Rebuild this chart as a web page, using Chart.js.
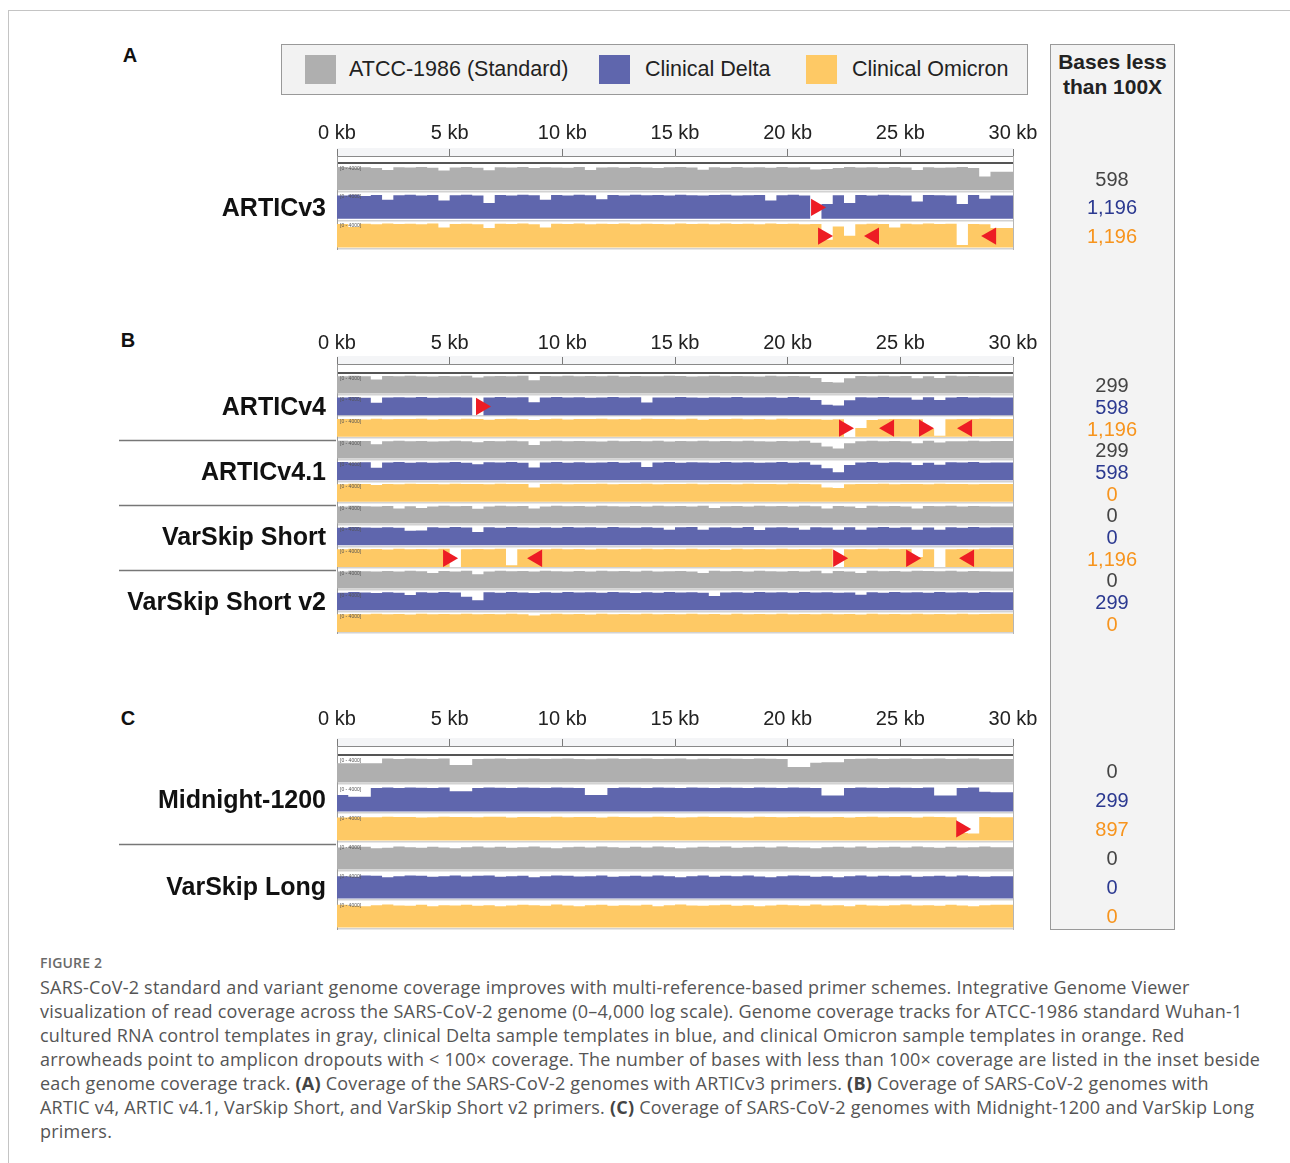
<!DOCTYPE html>
<html>
<head>
<meta charset="utf-8">
<script src="https://cdn.jsdelivr.net/npm/chart.js@4.4.0/dist/chart.umd.min.js"></script>
<style>
  body { margin: 0; background: #fff; width: 1290px; height: 1163px; position: relative; overflow: hidden;
         font-family: Arial, "Liberation Sans", sans-serif; color: #222; }
  .frame { position: absolute; left: 8px; top: 10px; width: 1300px; height: 1200px;
           border-left: 1px solid #c4c4c4; border-top: 1px solid #c4c4c4; }
  .abs { position: absolute; white-space: nowrap; }
  .letter { font-weight: bold; font-size: 20px; color: #111; transform: translate(-50%, -50%); }
  .legend { left: 281px; top: 44px; width: 745px; height: 49px; background: #f2f2f2; border: 1px solid #999; }
  .swatch { position: absolute; top: 10px; width: 31px; height: 29px; }
  .legtext { position: absolute; top: 11px; font-size: 21.5px; line-height: 26px; color: #222; }
  .side { left: 1050px; top: 44px; width: 123px; height: 884px; background: #f3f3f3; border: 1px solid #999; }
  .side-head { position: absolute; left: 0; width: 123px; top: 4px; text-align: center; font-weight: bold;
               font-size: 21px; line-height: 25px; color: #222; }
  canvas { position: absolute; z-index: 1; }
  .caption { left: 40px; top: 951px; font-family: "Open Sans", sans-serif; color: #555; }
  .caption .fig { font-size: 14px; font-weight: 600; color: #6a6a6a; line-height: 24px; letter-spacing: 0.2px; }
  .caption .body { font-size: 18px; line-height: 24px; letter-spacing: 0.22px; }
  .caption b { font-weight: 700; color: #444; }
</style>
</head>
<body>
<div class="frame"></div>

<div class="abs letter" style="left:130px;top:55px">A</div>
<div class="abs letter" style="left:128px;top:340px">B</div>
<div class="abs letter" style="left:128px;top:718px">C</div>

<div class="abs legend">
  <div class="swatch" style="left:23px;background:#afafaf"></div>
  <div class="legtext" style="left:67px">ATCC-1986 (Standard)</div>
  <div class="swatch" style="left:317px;background:#5f66ad"></div>
  <div class="legtext" style="left:363px">Clinical Delta</div>
  <div class="swatch" style="left:524px;background:#fec965"></div>
  <div class="legtext" style="left:570px">Clinical Omicron</div>
</div>

<div class="abs side"><div class="side-head">Bases less<br>than 100X</div></div>

<canvas id="chartA" width="1080" height="149" style="left:100px;top:110px"></canvas>
<canvas id="chartB" width="1080" height="325" style="left:100px;top:318px"></canvas>
<canvas id="chartC" width="1080" height="239" style="left:100px;top:700px"></canvas>

<div class="abs caption">
  <div class="fig">FIGURE 2</div>
  <div class="body">
    SARS-CoV-2 standard and variant genome coverage improves with multi-reference-based primer schemes. Integrative Genome Viewer<br>
    visualization of read coverage across the SARS-CoV-2 genome (0–4,000 log scale). Genome coverage tracks for ATCC-1986 standard Wuhan-1<br>
    cultured RNA control templates in gray, clinical Delta sample templates in blue, and clinical Omicron sample templates in orange. Red<br>
    arrowheads point to amplicon dropouts with &lt; 100× coverage. The number of bases with less than 100× coverage are listed in the inset beside<br>
    each genome coverage track. <b>(A)</b> Coverage of the SARS-CoV-2 genomes with ARTICv3 primers. <b>(B)</b> Coverage of SARS-CoV-2 genomes with<br>
    ARTIC v4, ARTIC v4.1, VarSkip Short, and VarSkip Short v2 primers. <b>(C)</b> Coverage of SARS-CoV-2 genomes with Midnight-1200 and VarSkip Long<br>
    primers.
  </div>
</div>

<script>
// genome bins, 500 bp each (start position in kb)
const binKb = [0,0.5,1,1.5,2,2.5,3,3.5,4,4.5,5,5.5,6,6.5,7,7.5,8,8.5,9,9.5,10,10.5,11,11.5,12,12.5,13,13.5,14,14.5,
  15,15.5,16,16.5,17,17.5,18,18.5,19,19.5,20,20.5,21,21.5,22,22.5,23,23.5,24,24.5,25,25.5,26,26.5,27,27.5,28,28.5,29,29.5];
const genomeEndKb = 30;
const xTicksKb = [0, 5, 10, 15, 20, 25, 30];

// coverage read off the IGV tracks, % of track height (log scale 0-4000)
// panel A
const articV3Std = [86,88,85,87,84,76,87,86,88,85, 74,86,88,85,75,87,86,88,84,87, 86,85,88,76,86,87,85,88,86,84,
  87,88,86,77,87,85,88,86,87,85, 88,86,87,78,80,84,88,86,87,85, 88,86,76,87,85,86,88,84,52,70];
const articV3Delta = [90,88,91,87,90,72,89,91,88,90, 70,89,91,88,60,90,88,91,89,72, 90,88,91,89,74,90,88,91,89,90,
  88,91,89,88,90,91,88,89,90,70, 89,91,88,0,56,89,60,90,88,91, 89,88,66,90,89,88,56,90,76,88];
const articV3Omicron = [91,89,78,90,88,91,89,90,88,91, 76,89,90,88,74,90,89,91,88,76, 90,89,91,88,90,89,91,88,90,89,
  88,91,89,90,88,91,89,90,88,91, 89,90,88,89,30,80,45,88,90,89, 76,90,88,91,89,90,10,89,88,74];

// panel B
const articV4Std = [88,86,89,87,70,88,86,89,87,85, 88,86,89,80,87,88,86,89,66,88, 86,89,87,88,86,89,85,88,87,86,
  89,88,85,87,89,86,88,87,85,89, 86,88,87,78,58,55,76,88,86,89, 87,88,76,87,78,89,86,88,87,86];
const articV4Delta = [90,88,91,87,62,89,90,88,91,87, 89,90,88,0,89,91,88,90,65,89, 91,88,90,87,89,91,88,90,64,89,
  88,91,89,87,90,88,91,89,88,90, 87,91,89,76,52,48,75,90,88,91, 89,88,77,90,76,89,91,88,90,89];
const articV4Omicron = [91,89,90,87,91,88,90,89,91,87, 90,88,91,89,86,90,91,88,84,89, 91,87,90,89,91,88,90,87,91,89,
  90,88,91,86,90,89,91,88,90,87, 91,89,90,88,86,88,0,44,84,88, 90,89,88,40,5,88,90,89,91,90];
const articV41Std = [87,89,86,88,72,87,89,86,88,85, 87,89,86,82,88,87,89,86,68,87, 89,86,88,87,85,89,86,88,87,89,
  85,88,86,89,87,88,86,89,87,85, 88,86,89,79,60,50,77,87,89,86, 88,87,77,89,80,87,86,89,87,88];
const articV41Delta = [89,91,88,90,62,89,91,88,90,88, 89,91,88,80,90,89,91,88,64,89, 91,88,90,87,89,91,88,90,66,89,
  91,88,90,89,88,91,89,90,88,89, 91,88,90,77,60,40,76,89,91,88, 90,89,76,88,78,90,89,91,88,89];
const articV41Omicron = [90,88,91,89,84,90,88,91,89,90, 88,91,89,90,88,91,89,90,72,89, 91,88,90,89,91,88,90,89,91,88,
  90,89,91,88,90,89,88,91,89,90, 88,91,89,88,72,70,88,90,89,91, 88,90,89,88,91,89,90,88,89,90];
const varSkipShortStd = [88,86,89,87,85,88,76,87,78,86, 89,87,88,74,86,89,87,88,76,86, 89,87,88,86,89,87,85,88,86,89,
  87,88,86,89,78,87,88,86,89,87, 88,86,89,87,76,88,86,78,89,87, 88,86,76,88,87,89,86,88,87,86];
const varSkipShortDelta = [90,88,91,89,87,90,88,72,74,90, 88,91,89,66,90,88,91,89,87,90, 88,91,89,90,88,91,89,87,90,88,
  78,90,91,78,89,90,88,91,76,89, 90,88,78,90,89,77,90,78,89,91, 88,90,77,89,78,90,88,91,89,90];
const varSkipShortOmicron = [90,88,91,89,90,87,91,89,90,88, 91,0,89,90,88,91,8,89,90,88, 91,89,90,87,91,89,90,88,91,89,
  90,88,91,89,90,86,91,89,90,88, 91,89,90,88,91,0,89,90,88,91, 89,90,50,88,0,89,90,88,91,90];
const varSkipShortV2Std = [88,86,89,87,85,88,86,89,87,78, 88,86,89,72,86,89,87,88,86,89, 87,85,88,86,89,87,88,86,89,85,
  87,88,86,78,89,87,88,86,89,87, 85,88,86,89,77,88,86,78,89,87, 88,86,89,88,87,89,86,88,87,86];
const varSkipShortV2Delta = [90,88,91,89,87,90,88,76,90,88, 91,89,68,50,90,88,91,89,87,90, 88,91,89,90,88,91,89,87,90,88,
  91,89,90,88,72,89,90,88,91,89, 90,88,91,89,90,88,89,78,90,88, 91,89,90,88,91,89,90,88,91,90];
const varSkipShortV2Omicron = [91,89,90,88,91,89,90,87,91,89, 90,88,91,89,90,88,91,89,82,88, 91,89,90,87,91,89,90,88,91,89,
  90,88,91,89,90,87,91,89,90,88, 91,89,90,88,91,89,90,87,91,89, 90,88,91,89,90,88,91,89,90,91];

// panel C
const midnightStd = [72,72,72,72,72,90,88,90,89,88, 90,66,66,88,89,90,88,89,90,88, 89,90,88,87,89,90,88,89,90,88,
  89,90,87,89,88,90,89,88,90,89, 88,58,58,74,76,76,88,89,90,88, 89,90,88,89,90,88,89,90,87,88];
const midnightDelta = [62,62,55,55,88,90,88,90,89,88, 90,76,76,88,90,89,88,90,89,88, 90,89,88,62,62,88,90,89,88,90,
  89,88,90,89,88,90,89,88,90,89, 88,90,89,88,60,60,88,90,89,88, 90,89,88,90,60,60,88,90,74,72];
const midnightOmicron = [86,86,88,87,87,89,88,88,86,87, 89,88,88,87,89,89,86,88,88,87, 89,87,88,88,86,89,88,87,87,89,
  88,86,87,89,88,88,87,86,89,88, 87,88,89,87,87,88,86,88,89,87, 88,88,86,89,88,87,28,26,88,87];
const varSkipLongStd = [84,83,86,85,80,82,86,84,82,85, 83,80,84,86,83,85,82,84,86,83, 80,84,85,83,86,84,82,85,83,86,
  84,80,83,85,84,86,82,84,85,83, 86,84,83,80,84,85,83,86,82,84, 85,83,86,84,82,85,83,84,86,84];
const varSkipLongDelta = [86,84,82,86,85,80,84,86,85,82, 84,86,83,85,86,82,84,85,80,84, 86,85,83,84,86,82,84,85,83,86,
  84,80,84,86,82,85,84,86,83,80, 84,86,85,82,84,80,84,86,83,85, 84,86,82,84,85,83,86,84,82,84];
const varSkipLongOmicron = [83,85,82,80,84,86,83,82,85,80, 84,83,85,82,84,80,83,85,84,82, 86,83,80,84,85,82,84,83,85,80,
  84,86,83,82,84,85,82,84,80,83, 85,84,82,86,83,84,80,85,83,82, 84,86,83,84,82,85,83,80,84,85];

// primer scheme names (one per group of three tracks)
const groupsA = ['ARTICv3'];
const groupsB = ['ARTICv4', 'ARTICv4.1', 'VarSkip Short', 'VarSkip Short v2'];
const groupsC = ['Midnight-1200', 'VarSkip Long'];

// bases below 100X, one per track
const basesA = [598, 1196, 1196];
const basesB = [299, 598, 1196, 299, 598, 0, 0, 0, 1196, 0, 299, 0];
const basesC = [0, 299, 897, 0, 0, 0];

// red arrowheads: [kb, track, direction]
const arrowsA = [[21.26, 1, 'R'], [21.57, 2, 'R'], [23.83, 2, 'L'], [29.03, 2, 'L']];
const arrowsB = [[6.39, 1, 'R'], [22.5, 2, 'R'], [24.5, 2, 'L'], [26.05, 2, 'R'], [27.96, 2, 'L'],
  [4.93, 8, 'R'], [8.88, 8, 'L'], [22.24, 8, 'R'], [25.48, 8, 'R'], [28.05, 8, 'L']];
const arrowsC = [[27.7, 2, 'R']];

const sampleColors = ['#afafaf', '#5f66ad', '#fec965'];
const numberColors = ['#444444', '#2b3990', '#f7941d'];
const CANVAS_LEFT = 100;

Chart.defaults.font.family = 'Arial, "Liberation Sans", sans-serif';

function makePanel(id, tracks, groups, bases, arrows, band, labelPad) {
  const n = tracks.length;
  const datasets = tracks.map((cov, i) => {
    const base = i + 1 - 0.05;
    const pts = binKb.map((kb, k) => ({ x: kb, y: base - cov[k] / 100 * 0.92 }));
    pts.push({ x: genomeEndKb, y: pts[pts.length - 1].y });
    return {
      type: 'line', data: pts, stepped: 'after', fill: { value: base }, order: 1,
      backgroundColor: sampleColors[i % 3], borderColor: 'rgba(0,0,0,0)', borderWidth: 0, pointRadius: 0
    };
  });
  // arrowheads drawn on top of the coverage fills
  datasets.push({
    type: 'scatter',
    order: -1,
    data: arrows.map(a => ({ x: a[0], y: a[1] + 0.55 })),
    pointStyle: 'triangle',
    pointRadius: 10,
    pointRotation: arrows.map(a => a[2] === 'R' ? 90 : -90),
    backgroundColor: '#ed1c24',
    borderColor: '#ed1c24',
    borderWidth: 0
  });

  // ruler band, tiny range labels, group separators, inset numbers
  const decor = {
    id: 'decor',
    beforeDraw(chart) {
      const { ctx, chartArea } = chart;
      ctx.save();
      ctx.fillStyle = '#f4f5f7';
      ctx.fillRect(chartArea.left, chartArea.top - 8, chartArea.right - chartArea.left, 8);
      ctx.restore();
    },
    afterDraw(chart) {
      const { ctx, chartArea } = chart;
      const y = chart.scales.y;
      ctx.save();
      ctx.font = '5px Arial';
      ctx.fillStyle = '#555';
      ctx.textBaseline = 'top';
      for (let i = 0; i < n; i++) {
        ctx.fillText('[0 - 4000]', chartArea.left + 3, y.getPixelForValue(i) + 3);
      }
      ctx.strokeStyle = '#777';
      ctx.lineWidth = 1.5;
      for (let j = 1; j < groups.length; j++) {
        const py = Math.round(y.getPixelForValue(j * 3)) + 2.5;
        ctx.beginPath();
        ctx.moveTo(119 - CANVAS_LEFT, py);
        ctx.lineTo(chartArea.left - 1, py);
        ctx.stroke();
      }
      ctx.font = '20px Arial';
      ctx.textAlign = 'center';
      ctx.textBaseline = 'middle';
      for (let i = 0; i < n; i++) {
        ctx.fillStyle = numberColors[i % 3];
        ctx.fillText(bases[i].toLocaleString('en-US'), 1112 - CANVAS_LEFT, y.getPixelForValue(i + 0.5) + 3);
      }
      ctx.restore();
    }
  };

  return new Chart(document.getElementById(id), {
    type: 'line',
    data: { datasets },
    plugins: [decor],
    options: {
      responsive: false,
      animation: false,
      events: [],
      layout: { padding: { left: 0, right: 167, top: 0, bottom: 4 } },
      plugins: { legend: { display: false }, tooltip: { enabled: false } },
      scales: {
        x: {
          type: 'linear', position: 'top', min: 0, max: genomeEndKb,
          afterBuildTicks: s => { s.ticks = xTicksKb.map(v => ({ value: v })); },
          ticks: { callback: v => v + ' kb', font: { size: 20 }, color: '#222', padding: labelPad,
                   maxRotation: 0, autoSkip: false },
          grid: { drawOnChartArea: false, tickLength: 7, color: '#7a7a7a', lineWidth: 1 },
          border: { color: '#8a8a8a', width: 1 },
          afterFit: s => { s.height = 46; s.paddingLeft = 0; s.paddingRight = 0; }
        },
        y: {
          type: 'linear', position: 'left', min: -band, max: n, reverse: true,
          afterBuildTicks: s => { s.ticks = groups.map((g, j) => ({ value: j * 3 + 1.5 })); },
          ticks: { callback: (v, idx) => groups[idx], font: { size: 25, weight: 'bold' }, color: '#111',
                   padding: 11, autoSkip: false, labelOffset: 3 },
          grid: { display: false, drawTicks: false },
          border: { color: '#9a9a9a', width: 1 },
          afterFit: s => { s.width = 237; s.paddingTop = 0; s.paddingBottom = 0; }
        },
        yGrid: {
          type: 'linear', position: 'right', min: -band, max: n, reverse: true,
          afterBuildTicks: s => { s.ticks = Array.from({ length: n + 1 }, (_, i) => ({ value: i })); },
          ticks: { display: false },
          grid: {
            drawTicks: false,
            color: c => c.tick && c.tick.value === 0 ? '#555' : '#d2d2d2',
            lineWidth: c => c.tick && c.tick.value === 0 ? 2 : 1.5
          },
          border: { color: '#b5b5b5', width: 1 },
          afterFit: s => { s.width = 0; s.paddingTop = 0; s.paddingBottom = 0; }
        }
      }
    }
  });
}

makePanel('chartA', [articV3Std, articV3Delta, articV3Omicron], groupsA, basesA, arrowsA, 0.24, 4);
makePanel('chartB', [articV4Std, articV4Delta, articV4Omicron, articV41Std, articV41Delta, articV41Omicron,
  varSkipShortStd, varSkipShortDelta, varSkipShortOmicron, varSkipShortV2Std, varSkipShortV2Delta, varSkipShortV2Omicron],
  groupsB, basesB, arrowsB, 0.41, 2);
makePanel('chartC', [midnightStd, midnightDelta, midnightOmicron, varSkipLongStd, varSkipLongDelta, varSkipLongOmicron],
  groupsC, basesC, arrowsC, 0.31, 8);
</script>
</body>
</html>
